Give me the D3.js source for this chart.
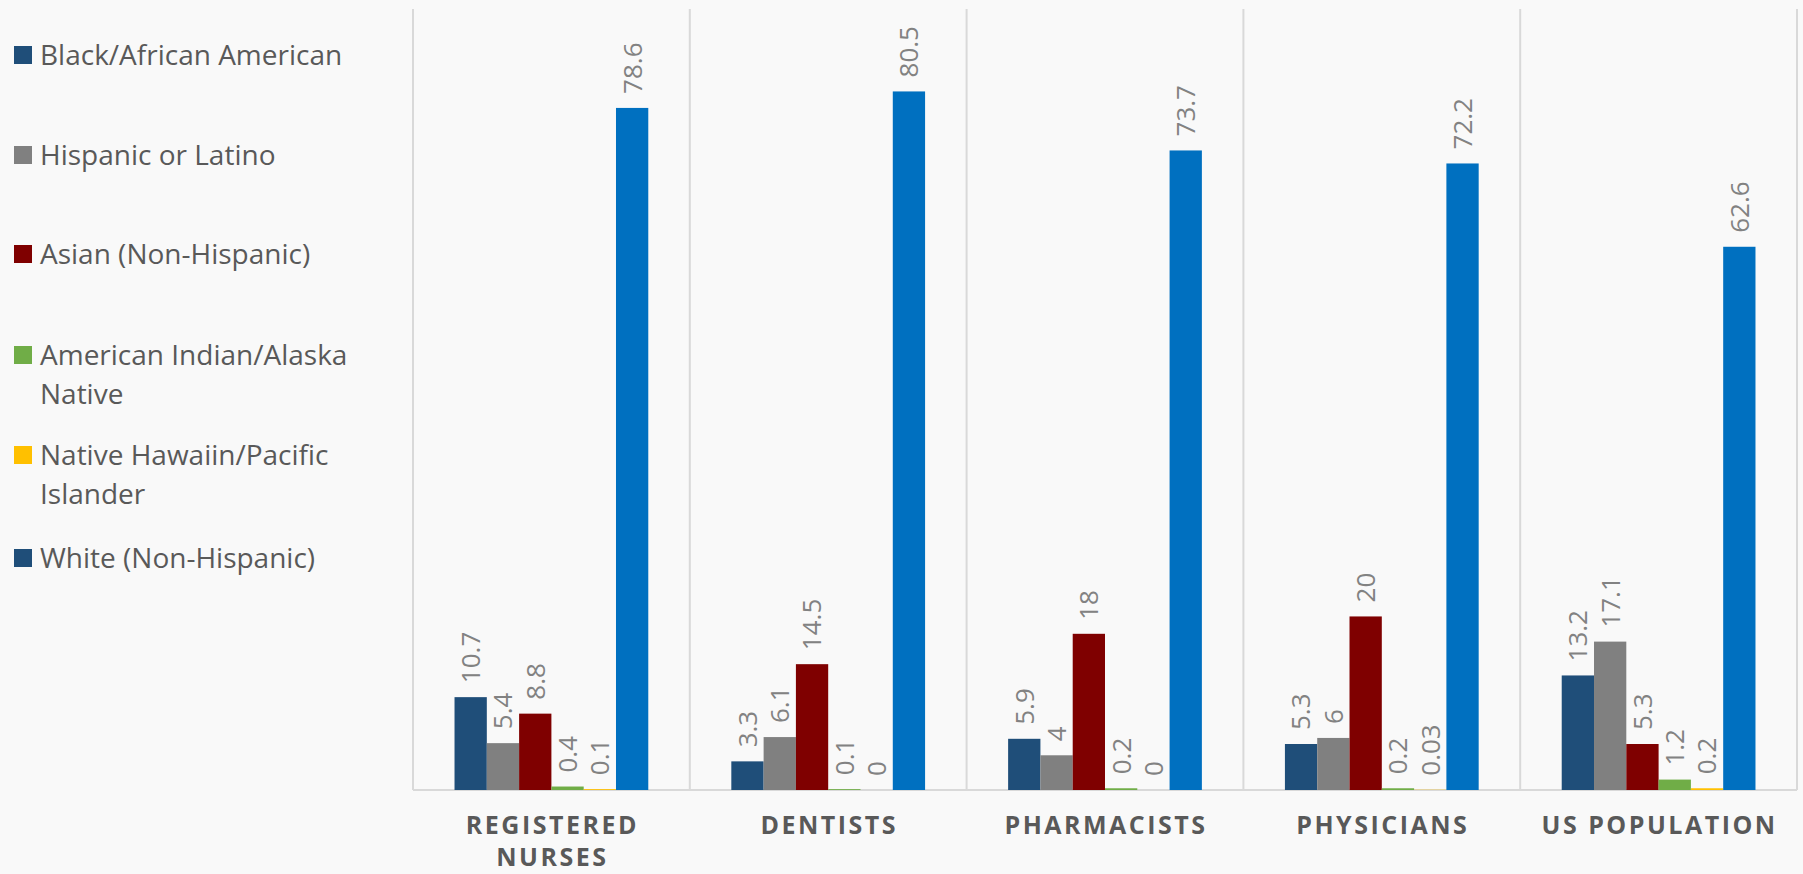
<!DOCTYPE html>
<html>
<head>
<meta charset="utf-8">
<script src="https://cdn.jsdelivr.net/npm/d3@7"></script>
<style>
  html, body { margin: 0; padding: 0; background: #f9f9f9; }
  svg { display: block; }
</style>
</head>
<body>
<svg id="chart" width="1803" height="874"></svg>
<script>
// Workforce composition by race/ethnicity (%), per profession
const categories = ["REGISTERED NURSES", "DENTISTS", "PHARMACISTS", "PHYSICIANS", "US POPULATION"];
const series = ["Black/African American", "Hispanic or Latino", "Asian (Non-Hispanic)",
                "American Indian/Alaska Native", "Native Hawaiin/Pacific Islander", "White (Non-Hispanic)"];
const blackValues    = [10.7, 3.3, 5.9, 5.3, 13.2];
const hispanicValues = [5.4, 6.1, 4, 6, 17.1];
const asianValues    = [8.8, 14.5, 18, 20, 5.3];
const aianValues     = [0.4, 0.1, 0.2, 0.2, 1.2];
const nhpiValues     = [0.1, 0, 0, 0.03, 0.2];
const whiteValues    = [78.6, 80.5, 73.7, 72.2, 62.6];
const seriesValues = [blackValues, hispanicValues, asianValues, aianValues, nhpiValues, whiteValues];
const barColors    = ["#1f4e79", "#808080", "#7f0000", "#70ad47", "#ffc000", "#0070c0"];
const legendColors = ["#1f4e79", "#808080", "#7f0000", "#70ad47", "#ffc000", "#1f4e79"];
const legendLines  = [["Black/African American"], ["Hispanic or Latino"], ["Asian (Non-Hispanic)"],
                      ["American Indian/Alaska", "Native"], ["Native Hawaiin/Pacific", "Islander"],
                      ["White (Non-Hispanic)"]];

const svg = d3.select("#chart");
const plotLeft = 413, plotRight = 1797, plotTop = 9, plotBottom = 790;

const x0 = d3.scaleBand().domain(categories).range([plotLeft, plotRight]).paddingInner(0.3).paddingOuter(0.15);
const x1 = d3.scaleBand().domain(series).range([0, x0.bandwidth()]);
const y = d3.scaleLinear().domain([0, 90]).range([plotBottom, plotTop]);
const step = x0.step();

// vertical separators between categories
const seps = categories.map(c => x0(c) - step * 0.15).concat([plotRight]);
svg.append("g").selectAll("line").data(seps).join("line")
  .attr("x1", d => d).attr("x2", d => d)
  .attr("y1", plotTop).attr("y2", plotBottom)
  .attr("stroke", "#d9d9d9").attr("stroke-width", 2);

// baseline
svg.append("line").attr("x1", plotLeft).attr("x2", plotRight)
  .attr("y1", plotBottom).attr("y2", plotBottom)
  .attr("stroke", "#d9d9d9").attr("stroke-width", 2);

const rows = [];
categories.forEach((c, ci) => series.forEach((s, si) => {
  rows.push({ cat: c, ser: s, si, v: seriesValues[si][ci] });
}));

const g = svg.append("g");
g.selectAll("rect").data(rows).join("rect")
  .attr("x", d => x0(d.cat) + x1(d.ser))
  .attr("width", x1.bandwidth())
  .attr("y", d => y(d.v))
  .attr("height", d => y(0) - y(d.v))
  .attr("fill", d => barColors[d.si]);

// rotated value labels
g.selectAll("text").data(rows).join("text")
  .attr("transform", d => `translate(${x0(d.cat) + x1(d.ser) + x1.bandwidth() / 2},${y(d.v) - 14}) rotate(-90)`)
  .attr("dy", "0.36em")
  .attr("text-anchor", "start")
  .attr("font-family", "Open Sans, sans-serif")
  .attr("font-size", 26)
  .attr("fill", "#828282")
  .text(d => d.v);

// category axis labels
const catLines = { "REGISTERED NURSES": ["REGISTERED", "NURSES"] };
const cl = svg.append("g").selectAll("text").data(categories).join("text")
  .attr("y", 834)
  .attr("text-anchor", "middle")
  .attr("font-family", "Open Sans, sans-serif")
  .attr("font-weight", "bold")
  .attr("font-size", 25)
  .attr("letter-spacing", 2.5)
  .attr("fill", "#595959");
cl.each(function(d) {
  const lines = catLines[d] || [d];
  const t = d3.select(this);
  lines.forEach((ln, i) => {
    t.append("tspan").attr("x", x0(d) + x0.bandwidth() / 2 + 1).attr("dy", i === 0 ? 0 : 32).text(ln);
  });
});

// legend
const legendY = [55, 155, 254, 355, 455, 558];
const lg = svg.append("g").selectAll("g").data(series).join("g")
  .attr("transform", (d, i) => `translate(14,${legendY[i]})`);
lg.append("rect").attr("x", 0).attr("y", -9).attr("width", 18).attr("height", 18)
  .attr("fill", (d, i) => legendColors[i]);
lg.append("text")
  .attr("x", 26).attr("y", 0)
  .attr("font-family", "Open Sans, sans-serif")
  .attr("font-size", 28)
  .attr("fill", "#595959")
  .each(function(d, i) {
    legendLines[i].forEach((ln, j) => {
      d3.select(this).append("tspan").attr("x", 26).attr("dy", j === 0 ? "0.36em" : 39).text(ln);
    });
  });
</script>
</body>
</html>
